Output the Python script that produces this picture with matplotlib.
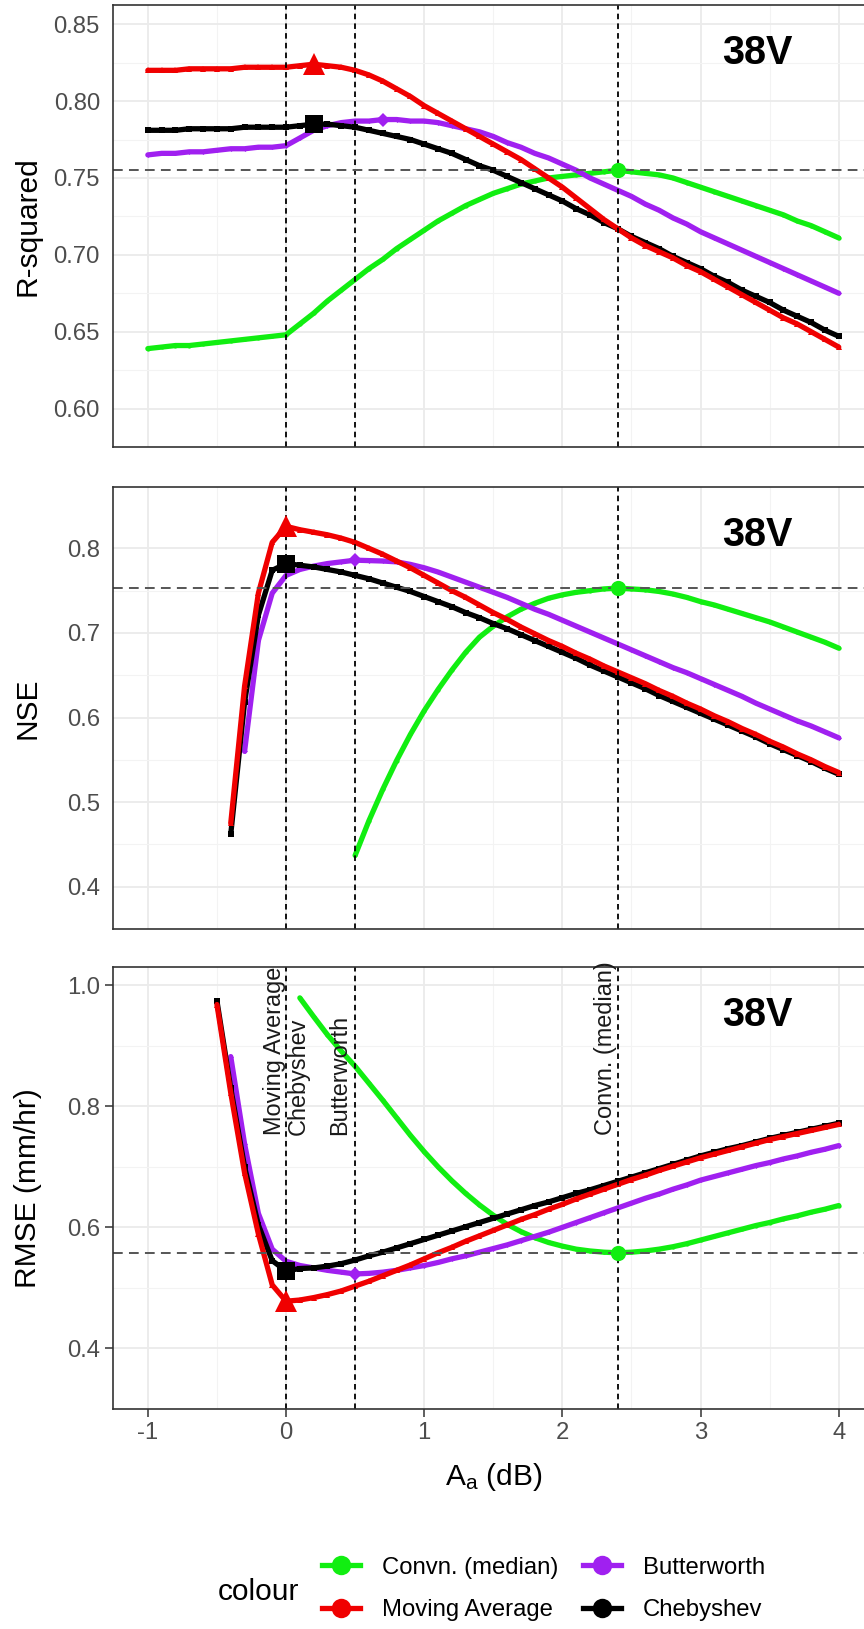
import numpy as np
import matplotlib
matplotlib.use('Agg')
import matplotlib.pyplot as plt
from matplotlib.lines import Line2D
from matplotlib.ticker import FormatStrFormatter

plt.rcParams['font.family'] = ['Liberation Sans', 'DejaVu Sans']
plt.rcParams['mathtext.fontset'] = 'custom'
plt.rcParams['mathtext.rm'] = 'Liberation Sans'
plt.rcParams['lines.scale_dashes'] = False
plt.rcParams['axes.unicode_minus'] = False

nan = np.nan

# ---------------- data ----------------
x_db = np.round(np.arange(-10, 41) / 10.0, 1)   # A_a (dB): -1.0 ... 4.0

methods = ['Convn. (median)', 'Moving Average', 'Butterworth', 'Chebyshev']

r2_convn = [0.639, 0.640, 0.641, 0.641, 0.642, 0.643, 0.644, 0.645, 0.646, 0.647,
            0.648, 0.655, 0.662, 0.670, 0.677, 0.684, 0.691, 0.697, 0.704, 0.710,
            0.716, 0.722, 0.727, 0.732, 0.736, 0.740, 0.743, 0.746, 0.748, 0.750,
            0.751, 0.752, 0.753, 0.754, 0.755, 0.754, 0.753, 0.752, 0.750, 0.747,
            0.744, 0.741, 0.738, 0.735, 0.732, 0.729, 0.726, 0.722, 0.719, 0.715,
            0.711]
r2_ma = [0.820, 0.820, 0.820, 0.821, 0.821, 0.821, 0.821, 0.822, 0.822, 0.822,
         0.822, 0.823, 0.824, 0.823, 0.822, 0.820, 0.817, 0.813, 0.808, 0.803,
         0.797, 0.792, 0.787, 0.782, 0.777, 0.772, 0.767, 0.762, 0.756, 0.750,
         0.744, 0.737, 0.730, 0.723, 0.717, 0.711, 0.706, 0.702, 0.698, 0.693,
         0.689, 0.684, 0.679, 0.674, 0.669, 0.664, 0.659, 0.655, 0.650, 0.645,
         0.640]
r2_butter = [0.765, 0.766, 0.766, 0.767, 0.767, 0.768, 0.769, 0.769, 0.770, 0.770,
             0.771, 0.776, 0.781, 0.784, 0.786, 0.787, 0.787, 0.788, 0.788, 0.787,
             0.787, 0.786, 0.784, 0.782, 0.780, 0.777, 0.773, 0.770, 0.766, 0.763,
             0.759, 0.755, 0.750, 0.746, 0.742, 0.738, 0.733, 0.729, 0.724, 0.720,
             0.715, 0.711, 0.707, 0.703, 0.699, 0.695, 0.691, 0.687, 0.683, 0.679,
             0.675]
r2_cheby = [0.781, 0.781, 0.781, 0.782, 0.782, 0.782, 0.782, 0.783, 0.783, 0.783,
            0.783, 0.784, 0.785, 0.785, 0.784, 0.783, 0.781, 0.779, 0.777, 0.775,
            0.772, 0.769, 0.766, 0.762, 0.758, 0.755, 0.751, 0.747, 0.743, 0.739,
            0.735, 0.730, 0.726, 0.721, 0.717, 0.712, 0.708, 0.704, 0.699, 0.695,
            0.691, 0.686, 0.682, 0.677, 0.673, 0.669, 0.664, 0.660, 0.656, 0.651,
            0.647]

nse_convn = [nan, nan, nan, nan, nan, nan, nan, nan, nan, nan,
             nan, nan, nan, nan, nan, 0.437, 0.478, 0.515, 0.549, 0.580,
             0.608, 0.633, 0.656, 0.677, 0.695, 0.708, 0.719, 0.728, 0.735, 0.741,
             0.745, 0.748, 0.750, 0.752, 0.753, 0.752, 0.751, 0.749, 0.746, 0.742,
             0.737, 0.733, 0.728, 0.723, 0.718, 0.713, 0.707, 0.701, 0.695, 0.689,
             0.682]
nse_ma = [nan, nan, nan, nan, nan, nan, 0.475, 0.637, 0.747, 0.807,
          0.826, 0.822, 0.819, 0.816, 0.812, 0.807, 0.800, 0.793, 0.785, 0.777,
          0.768, 0.759, 0.750, 0.742, 0.733, 0.724, 0.716, 0.707, 0.699, 0.691,
          0.684, 0.676, 0.669, 0.661, 0.654, 0.647, 0.640, 0.632, 0.625, 0.617,
          0.610, 0.602, 0.595, 0.587, 0.580, 0.572, 0.565, 0.557, 0.550, 0.542,
          0.535]
nse_butter = [nan, nan, nan, nan, nan, nan, nan, 0.560, 0.691, 0.747,
              0.768, 0.775, 0.779, 0.782, 0.784, 0.786, 0.7855, 0.785, 0.784, 0.781,
              0.777, 0.772, 0.766, 0.760, 0.754, 0.748, 0.742, 0.735, 0.728, 0.722,
              0.715, 0.708, 0.701, 0.694, 0.687, 0.680, 0.673, 0.666, 0.659, 0.653,
              0.646, 0.639, 0.632, 0.625, 0.617, 0.610, 0.603, 0.596, 0.590, 0.583,
              0.576]
nse_cheby = [nan, nan, nan, nan, nan, nan, 0.462, 0.618, 0.721, 0.774,
             0.782, 0.780, 0.778, 0.775, 0.772, 0.768, 0.764, 0.759, 0.754, 0.749,
             0.743, 0.737, 0.731, 0.724, 0.718, 0.711, 0.705, 0.698, 0.691, 0.684,
             0.677, 0.670, 0.662, 0.655, 0.648, 0.641, 0.634, 0.626, 0.619, 0.612,
             0.605, 0.598, 0.591, 0.584, 0.577, 0.569, 0.562, 0.555, 0.548, 0.540,
             0.533]

rmse_convn = [nan, nan, nan, nan, nan, nan, nan, nan, nan, nan,
              nan, 0.979, 0.948, 0.918, 0.891, 0.866, 0.838, 0.810, 0.781, 0.752,
              0.725, 0.700, 0.677, 0.656, 0.637, 0.620, 0.605, 0.593, 0.583, 0.575,
              0.569, 0.564, 0.561, 0.559, 0.558, 0.559, 0.561, 0.564, 0.568, 0.573,
              0.579, 0.585, 0.591, 0.597, 0.603, 0.608, 0.614, 0.619, 0.625, 0.630,
              0.636]
rmse_ma = [nan, nan, nan, nan, nan, 0.968, 0.822, 0.690, 0.589, 0.505,
           0.478, 0.480, 0.484, 0.489, 0.495, 0.503, 0.511, 0.520, 0.529, 0.538,
           0.548, 0.558, 0.567, 0.577, 0.586, 0.595, 0.604, 0.613, 0.621, 0.630,
           0.638, 0.647, 0.655, 0.663, 0.671, 0.679, 0.686, 0.694, 0.701, 0.708,
           0.715, 0.721, 0.727, 0.733, 0.739, 0.745, 0.750, 0.755, 0.760, 0.765,
           0.770]
rmse_butter = [nan, nan, nan, nan, nan, nan, 0.882, 0.738, 0.623, 0.564,
               0.544, 0.537, 0.533, 0.529, 0.526, 0.523, 0.524, 0.526, 0.529, 0.533,
               0.537, 0.542, 0.548, 0.553, 0.559, 0.565, 0.571, 0.578, 0.585, 0.592,
               0.600, 0.608, 0.616, 0.624, 0.632, 0.640, 0.648, 0.655, 0.663, 0.670,
               0.678, 0.684, 0.690, 0.696, 0.702, 0.707, 0.713, 0.718, 0.724, 0.729,
               0.735]
rmse_cheby = [nan, nan, nan, nan, nan, 0.974, 0.830, 0.700, 0.604, 0.545,
              0.528, 0.532, 0.533, 0.536, 0.540, 0.546, 0.553, 0.559, 0.566, 0.573,
              0.580, 0.587, 0.594, 0.601, 0.608, 0.615, 0.622, 0.629, 0.636, 0.642,
              0.649, 0.656, 0.662, 0.669, 0.676, 0.683, 0.690, 0.697, 0.704, 0.711,
              0.718, 0.724, 0.730, 0.735, 0.741, 0.747, 0.752, 0.757, 0.762, 0.767,
              0.772]

panel_labels = ['R-squared', 'NSE', 'RMSE (mm/hr)']
station = '38V'
y_ticks = [[0.60, 0.65, 0.70, 0.75, 0.80, 0.85],
           [0.4, 0.5, 0.6, 0.7, 0.8],
           [0.4, 0.6, 0.8, 1.0]]
x_ticks = [-1, 0, 1, 2, 3, 4]

# ---------------- styles ----------------
colors = {'Convn. (median)': '#11EE11', 'Moving Average': '#F00000',
          'Butterworth': '#A020F0', 'Chebyshev': '#000000'}
small_mk = {'Convn. (median)': ('o', 3.0), 'Moving Average': ('^', 5.0),
            'Butterworth': ('D', 2.5), 'Chebyshev': ('s', 4.2)}
big_mk = {'Convn. (median)': ('o', 11), 'Moving Average': ('^', 16),
          'Butterworth': ('D', 7.5), 'Chebyshev': ('s', 13)}
draw_order = ['Convn. (median)', 'Butterworth', 'Chebyshev', 'Moving Average']

data = [
    dict(zip(methods, [r2_convn, r2_ma, r2_butter, r2_cheby])),
    dict(zip(methods, [nse_convn, nse_ma, nse_butter, nse_cheby])),
    dict(zip(methods, [rmse_convn, rmse_ma, rmse_butter, rmse_cheby])),
]
higher_better = [True, True, False]
ylims = [(0.5875, 0.8625), (0.3775, 0.8725), (0.37, 1.03)]
yfmt = ['%.2f', '%.1f', '%.1f']

W, H = 864, 1629
fig = plt.figure(figsize=(W / 100, H / 100), dpi=100)
left_px, right_px = 113.3, 873.3
panels_px = [(5, 447), (487, 929), (967, 1409)]

def best(vals, hb):
    arr = np.array(vals, dtype=float)
    i = np.nanargmax(arr) if hb else np.nanargmin(arr)
    return x_db[i], arr[i]

# optimal A_a from RMSE (vertical reference lines)
opt_x = {m: best(data[2][m], False)[0] for m in methods}
vlines = sorted(set(opt_x.values()))

tick_col = '#4D4D4D'
axes = []
for k in range(3):
    top, bot = panels_px[k]
    ax = fig.add_axes([left_px / W, 1 - bot / H, (right_px - left_px) / W, (bot - top) / H])
    axes.append(ax)
    ax.set_xlim(-1.25, 4.25)
    ax.set_ylim(*ylims[k])
    ax.set_xticks(x_ticks)
    ax.set_xticks([-0.5, 0.5, 1.5, 2.5, 3.5], minor=True)
    ax.set_yticks(y_ticks[k])
    yt = y_ticks[k]
    step = yt[1] - yt[0]
    ax.set_yticks([v + step / 2 for v in yt[:-1]] + [yt[0] - step / 2], minor=True)
    ax.yaxis.set_major_formatter(FormatStrFormatter(yfmt[k]))
    ax.grid(which='major', color='#EBEBEB', lw=1.3, zorder=0)
    ax.grid(which='minor', color='#F3F3F3', lw=0.8, zorder=0)
    ax.set_axisbelow(True)
    for s in ax.spines.values():
        s.set_color('#333333')
        s.set_linewidth(1.2)
        s.set_zorder(6)
    ax.tick_params(which='minor', length=0)
    if k < 2:
        ax.tick_params(which='major', length=0, labelbottom=False, pad=9.6,
                       labelsize=17.2, labelcolor=tick_col)
    else:
        ax.tick_params(which='major', length=5.6, width=1.1, color='#333333', pad=3.6,
                       labelsize=17.2, labelcolor=tick_col)

    d = data[k]
    for m in draw_order:
        mk, ms = small_mk[m]
        ax.plot(x_db, d[m], color=colors[m], lw=3.8, marker=mk, ms=ms,
                markeredgewidth=0, zorder=2, solid_capstyle='round')
    # reference lines
    for vx in vlines:
        ax.axvline(vx, color='black', lw=1.3, ls=(0, (4, 3)), zorder=3)
    hy = best(d['Convn. (median)'], higher_better[k])[1]
    ax.axhline(hy, color='#555555', lw=1.4, ls=(0, (7, 4.5)), zorder=3)
    # optimum markers
    for m in draw_order:
        bx, by = best(d[m], higher_better[k])
        mk, ms = big_mk[m]
        ax.plot([bx], [by], marker=mk, ms=ms, color=colors[m], ls='none',
                markeredgewidth=0, zorder=4)

    ax.text(0.848, 0.866, station, transform=ax.transAxes, ha='center', va='baseline',
            fontsize=28.5, fontweight='bold', color='black', zorder=7)
    ax.set_ylabel(panel_labels[k], fontsize=21.5, color='black', va='baseline')
    ax.yaxis.set_label_coords((36 - left_px) / (right_px - left_px), 0.5)

ax3 = axes[2]
ax3.set_xlabel(r'$\mathregular{A_a}$ (dB)', fontsize=21.5, color='black', va='baseline')
ax3.xaxis.set_label_coords((493.3 - left_px) / (right_px - left_px), (1409 - 1484.7) / 442)

# labels of vertical lines (RMSE panel)
vlab = [('Moving Average', -0.035), ('Chebyshev', 0.139),
        ('Butterworth', 0.436), ('Convn. (median)', 2.356)]
for txt, xb in vlab:
    ax3.text(xb, 0.752, txt, rotation=90, rotation_mode='anchor', ha='left',
             va='baseline', fontsize=16.9, color='#1A1A1A', zorder=7)

# legend
handles = [Line2D([0], [0], color=colors[m], lw=3.8, marker='o', ms=14,
                  markeredgewidth=0) for m in methods]
fig.legend(handles, methods, ncol=2, loc='center left',
           bbox_to_anchor=(322 / W, 1 - 1589 / H), frameon=False, borderpad=0,
           borderaxespad=0, handlelength=1.59, handletextpad=0.92,
           columnspacing=1.02, labelspacing=0.85, fontsize=17.2)
fig.text(218 / W, 1 - 1600 / H, 'colour', fontsize=21.5, ha='left', va='baseline',
         color='black')

fig.savefig('out.png', dpi=100)
